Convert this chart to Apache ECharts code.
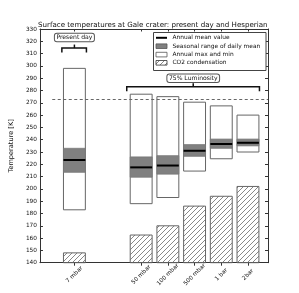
<!DOCTYPE html>
<html>
<head>
<meta charset="utf-8">
<script src="https://cdn.jsdelivr.net/npm/echarts@6/dist/echarts.min.js"></script>
<style>
html,body{margin:0;padding:0;background:#fff;}
#c{width:299px;height:293px;}
</style>
</head>
<body>
<div id="c"></div>
<script>
// ---- data ----
var labels = ['7 mbar', '50 mbar', '100 mbar', '500 mbar', '1 bar', '2bar'];
var positions = [1, 3.5, 4.5, 5.5, 6.5, 7.5];
var annualMax = [298, 277, 275, 270.5, 267.5, 260];
var annualMin = [183, 188, 193, 214.5, 224.5, 230];
var seasonalHigh = [233, 226, 227, 236, 240.5, 240.5];
var seasonalLow = [213.5, 209.5, 212, 226.5, 233, 235];
var annualMean = [223.5, 217.5, 219, 231, 236.5, 237.5];
var co2Condensation = [148, 162.5, 170, 186, 194, 202];
var freezingPoint = 273.15;
var yTicks = { min: 140, max: 330, interval: 10 };
var groupLabels = ['Present day', '75% Luminosity'];

var FONT = 'DejaVu Sans';
var EDGE = '#666';

// hatch pattern
function makeHatch() {
  var s = 5;
  var cv = document.createElement('canvas');
  cv.width = s; cv.height = s;
  var ctx = cv.getContext('2d');
  ctx.strokeStyle = '#555';
  ctx.lineWidth = 0.7;
  ctx.beginPath();
  ctx.moveTo(-1, s + 1); ctx.lineTo(s + 1, -1);
  ctx.moveTo(-1, 1); ctx.lineTo(1, -1);
  ctx.moveTo(s - 1, s + 1); ctx.lineTo(s + 1, s - 1);
  ctx.stroke();
  return cv;
}
var hatch = makeHatch();
function hatchFill() { return { image: hatch, repeat: 'repeat' }; }

var tempData = positions.map(function (p, i) {
  return [p, annualMin[i], annualMax[i], seasonalLow[i], seasonalHigh[i], annualMean[i]];
});
var co2Data = positions.map(function (p, i) { return [p, co2Condensation[i]]; });

var HW = 0.41;

function renderTemp(params, api) {
  var x = api.value(0);
  var pMinL = api.coord([x - HW, api.value(1)]);
  var pMaxR = api.coord([x + HW, api.value(2)]);
  var pSL = api.coord([x - HW, api.value(3)]);
  var pSH = api.coord([x + HW, api.value(4)]);
  var pML = api.coord([x - HW, api.value(5)]);
  var pMR = api.coord([x + HW, api.value(5)]);
  return {
    type: 'group',
    children: [
      { type: 'rect', shape: { x: pMinL[0], y: pMaxR[1], width: pMaxR[0] - pMinL[0], height: pMinL[1] - pMaxR[1] },
        style: { fill: '#fff', stroke: EDGE, lineWidth: 1 } },
      { type: 'rect', shape: { x: pSL[0], y: pSH[1], width: pSH[0] - pSL[0], height: pSL[1] - pSH[1] },
        style: { fill: '#808080', stroke: '#777', lineWidth: 0.8 } },
      { type: 'line', shape: { x1: pML[0], y1: pML[1], x2: pMR[0], y2: pMR[1] },
        style: { stroke: '#000', lineWidth: 2 } }
    ]
  };
}

function renderCO2(params, api) {
  var x = api.value(0);
  var pL = api.coord([x - HW, yTicks.min]);
  var pR = api.coord([x + HW, api.value(1)]);
  return { type: 'rect', shape: { x: pL[0], y: pR[1], width: pR[0] - pL[0], height: pL[1] - pR[1] },
    style: { fill: hatchFill(), stroke: EDGE, lineWidth: 1 } };
}

// annotation brackets: [xLeft, xRight, xCenter, yBracket, yText, labelIndex]
var bracketData = [
  [0.53, 1.45, 1.0, 314.5, 323, 0],
  [2.96, 7.93, 5.45, 283, 290, 1]
];
function renderBracket(params, api) {
  var l = api.coord([api.value(0), api.value(3)]);
  var r = api.coord([api.value(1), api.value(3)]);
  var c = api.coord([api.value(2), api.value(3)]);
  var t = api.coord([api.value(2), api.value(4)]);
  var label = groupLabels[api.value(5)];
  return {
    type: 'group',
    children: [
      { type: 'polyline', shape: { points: [[l[0], l[1] + 4.5], [l[0], l[1]], [r[0], r[1]], [r[0], r[1] + 4.5]] },
        style: { stroke: '#111', lineWidth: 1.5, fill: null } },
      { type: 'line', shape: { x1: c[0], y1: c[1], x2: c[0], y2: c[1] - 3.5 },
        style: { stroke: '#111', lineWidth: 1.5 } },
      { type: 'text', x: t[0], y: t[1],
        style: { text: label, fontFamily: FONT, fontSize: 6.1, fill: '#111', align: 'center', verticalAlign: 'middle',
          backgroundColor: '#fff', borderColor: '#555', borderWidth: 1, borderRadius: 2, padding: [1, 1.5, 0.5, 1.5] } }
    ]
  };
}

var chart = echarts.init(document.getElementById('c'), null, { renderer: 'canvas' });

var legendX = 153.5, legendY = 32.5;
var legendRows = [37.8, 46.2, 54.6, 62.8];
var legendTexts = ['Annual mean value', 'Seasonal range of daily mean', 'Annual max and min', 'CO2 condensation'];
var graphics = [
  { type: 'text', x: 152.8, y: 25, style: { text: 'Surface temperatures at Gale crater: present day and Hesperian',
    fontFamily: FONT, fontSize: 7.1, fill: '#111', align: 'center', verticalAlign: 'middle' } },
  { type: 'rect', shape: { x: legendX, y: legendY, width: 112.5, height: 38 }, z: 10,
    style: { fill: '#fff', stroke: '#444', lineWidth: 1 } },
  { type: 'line', shape: { x1: 156, y1: legendRows[0], x2: 167, y2: legendRows[0] }, z: 11, style: { stroke: '#000', lineWidth: 2 } },
  { type: 'rect', shape: { x: 156, y: legendRows[1] - 2.3, width: 11, height: 4.6 }, z: 11, style: { fill: '#808080', stroke: '#555', lineWidth: 0.8 } },
  { type: 'rect', shape: { x: 156, y: legendRows[2] - 2.3, width: 11, height: 4.6 }, z: 11, style: { fill: '#fff', stroke: '#555', lineWidth: 0.8 } },
  { type: 'rect', shape: { x: 156, y: legendRows[3] - 2.3, width: 11, height: 4.6 }, z: 11, style: { fill: hatchFill(), stroke: '#333', lineWidth: 0.8 } }
];
legendTexts.forEach(function (t, i) {
  graphics.push({ type: 'text', x: 172.5, y: legendRows[i], z: 11,
    style: { text: t, fontFamily: FONT, fontSize: 5.9, fill: '#111', align: 'left', verticalAlign: 'middle' } });
});

var axisLineStyle = { color: '#333', width: 1 };
chart.setOption({
  animation: false,
  backgroundColor: '#fff',
  grid: { left: 37.5, right: 31, top: 29, bottom: 30.3, containLabel: false },
  xAxis: [
    { type: 'value', min: -0.29, max: 8.25, position: 'bottom',
      splitLine: { show: false },
      axisLine: { show: true, onZero: false, lineStyle: axisLineStyle },
      axisTick: { show: true, customValues: positions, length: 3, inside: false, lineStyle: { color: '#333' } },
      axisLabel: { show: true, customValues: positions, rotate: 45, margin: 12,
        fontFamily: FONT, fontSize: 5.8, color: '#111', align: 'center', verticalAlign: 'middle',
        formatter: function (v) { var i = positions.indexOf(v); return i >= 0 ? labels[i] : ''; } } },
    { type: 'value', min: -0.29, max: 8.25, position: 'top',
      splitLine: { show: false },
      axisLine: { show: true, onZero: false, lineStyle: axisLineStyle },
      axisTick: { show: true, customValues: positions, length: 2.5, inside: true, lineStyle: { color: '#333' } },
      axisLabel: { show: false } }
  ],
  yAxis: [
    { type: 'value', min: yTicks.min, max: yTicks.max, interval: yTicks.interval, position: 'left',
      name: 'Temperature [K]', nameLocation: 'middle', nameGap: 14, nameRotate: 90,
      nameTextStyle: { fontFamily: FONT, fontSize: 6.6, color: '#111' },
      splitLine: { show: false },
      axisLine: { show: true, onZero: false, lineStyle: axisLineStyle },
      axisTick: { show: true, inside: true, length: 3, lineStyle: { color: '#333' } },
      axisLabel: { fontFamily: FONT, fontSize: 5.8, color: '#111', margin: 3 } },
    { type: 'value', min: yTicks.min, max: yTicks.max, interval: yTicks.interval, position: 'right',
      splitLine: { show: false },
      axisLine: { show: true, onZero: false, lineStyle: axisLineStyle },
      axisTick: { show: true, inside: true, length: 3, lineStyle: { color: '#333' } },
      axisLabel: { show: false } }
  ],
  graphic: graphics,
  series: [
    { type: 'custom', name: 'CO2 condensation', renderItem: renderCO2, data: co2Data, z: 2,
      xAxisIndex: 0, yAxisIndex: 0, encode: { x: 0, y: 1 } },
    { type: 'custom', name: 'temps', renderItem: renderTemp, data: tempData, z: 3,
      xAxisIndex: 0, yAxisIndex: 0, encode: { x: 0, y: [1, 2] },
      markLine: { silent: true, symbol: 'none', label: { show: false },
        lineStyle: { color: '#666', type: [3, 2.5], width: 1 },
        data: [[{ coord: [0.17, freezingPoint] }, { coord: [8.25, freezingPoint] }]] } },
    { type: 'custom', name: 'brackets', renderItem: renderBracket, data: bracketData, z: 4,
      xAxisIndex: 0, yAxisIndex: 0, encode: { x: [0, 1], y: 3 } }
  ]
});
</script>
</body>
</html>
